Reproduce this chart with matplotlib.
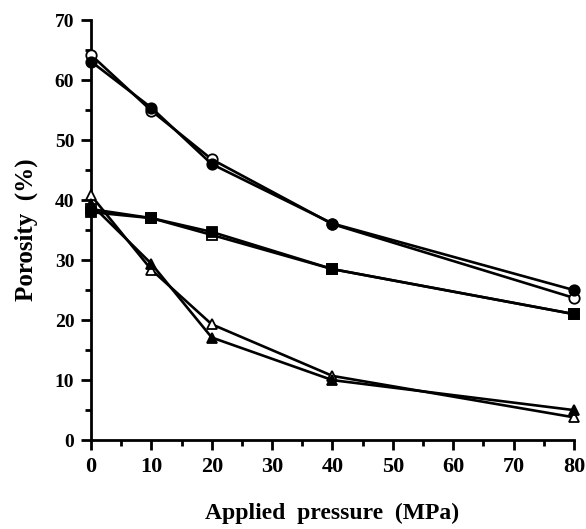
import matplotlib
matplotlib.use("Agg")
import matplotlib.pyplot as plt
from matplotlib.ticker import MultipleLocator

# applied pressure (MPa)
pressure = [0, 10, 20, 40, 80]

# porosity (%) for each sample
open_circle = [64.2, 54.9, 46.8, 36.0, 23.7]
filled_circle = [63.1, 55.4, 46.0, 36.1, 25.0]
open_square = [38.5, 37.0, 34.2, 28.5, 21.0]
filled_square = [38.0, 37.0, 34.7, 28.5, 21.0]
open_triangle = [40.8, 28.4, 19.3, 10.7, 3.8]
filled_triangle = [39.3, 29.4, 17.1, 10.0, 5.0]

x_ticks = [0, 10, 20, 30, 40, 50, 60, 70, 80]
y_ticks = [0, 10, 20, 30, 40, 50, 60, 70]

plt.rcParams['font.family'] = ['Liberation Serif', 'DejaVu Serif']
plt.rcParams['font.weight'] = 'bold'

fig = plt.figure(figsize=(5.86, 5.29), dpi=100)
ax = fig.add_axes([0.1553, 0.168, 0.8242, 0.794])

series = [
    (open_circle, 'o', 'white'),
    (filled_circle, 'o', 'black'),
    (open_square, 's', 'white'),
    (filled_square, 's', 'black'),
    (open_triangle, '^', 'white'),
    (filled_triangle, '^', 'black'),
]
for values, marker, face in series:
    ax.plot(pressure, values, color='black', linewidth=1.9, marker=marker,
            markersize=7.5, markerfacecolor=face, markeredgecolor='black',
            markeredgewidth=1.3, clip_on=False, zorder=3)

ax.set_xlim(0, 80)
ax.set_ylim(0, 70)
ax.set_xticks(x_ticks)
ax.set_yticks(y_ticks)
ax.xaxis.set_minor_locator(MultipleLocator(5))
ax.yaxis.set_minor_locator(MultipleLocator(5))

for side in ['top', 'right']:
    ax.spines[side].set_visible(False)
for side in ['left', 'bottom']:
    ax.spines[side].set_linewidth(2)

ax.tick_params(axis='both', which='major', direction='out', length=7, width=2, pad=5)
ax.tick_params(axis='y', which='major', labelsize=14)
ax.tick_params(axis='x', which='major', labelsize=16)
ax.tick_params(axis='both', which='minor', direction='out', length=4, width=2)
for lab in ax.get_xticklabels() + ax.get_yticklabels():
    lab.set_fontweight('bold')

ax.set_xlabel('Applied  pressure  (MPa)', fontsize=17, fontweight='bold', labelpad=19)
ax.set_ylabel('Porosity  (%)', fontsize=18, fontweight='bold', labelpad=12)

fig.savefig('out.png', dpi=100)
